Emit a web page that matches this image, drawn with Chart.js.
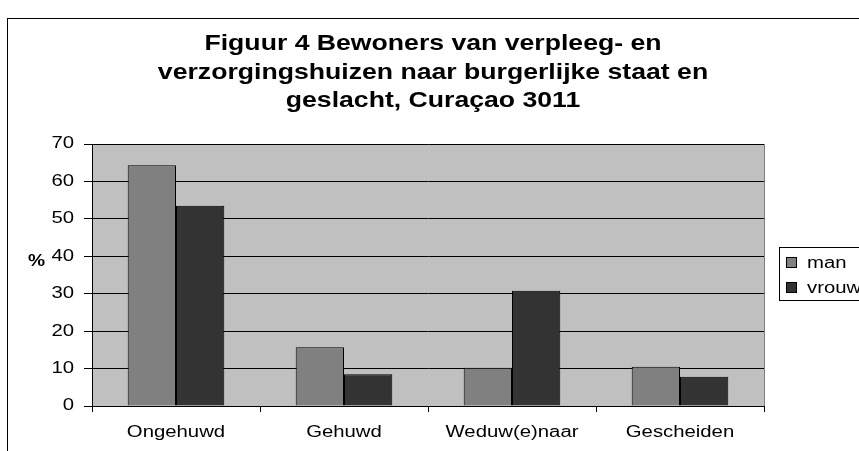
<!DOCTYPE html>
<html>
<head>
<meta charset="utf-8">
<script src="https://cdn.jsdelivr.net/npm/chart.js@4/dist/chart.umd.min.js"></script>
<style>
  html, body { margin: 0; padding: 0; background: #fff; }
  #wrap { width: 859px; height: 451px; position: relative; }
</style>
</head>
<body>
<div id="wrap"><canvas id="chart"></canvas></div>
<script>
// ==============================
// data
// ==============================
const categories = ["Ongehuwd", "Gehuwd", "Weduw(e)naar", "Gescheiden"];
const seriesNames = ["man", "vrouw"];
const manValues = [64.3, 15.7, 10.2, 10.5];
const vrouwValues = [53.5, 8.5, 30.8, 7.8];
const yTicks = [0, 10, 20, 30, 40, 50, 60, 70];
const titleLines = [
    "Figuur 4 Bewoners van verpleeg- en",
    "verzorgingshuizen naar burgerlijke staat en",
    "geslacht, Curaçao 3011"
];
const yAxisLabel = "%";

const colors = ["#808080", "#333333"];
const FONT = "'Liberation Sans', Arial, sans-serif";

// the original text is a bit wider than plain Arial
function wideText(ctx, text, x, y, sx, align) {
    ctx.save();
    ctx.translate(x, y);
    ctx.scale(sx, 1);
    ctx.textAlign = align;
    ctx.fillText(text, 0, 0);
    ctx.restore();
}

// ==============================
// frame, plot background, labels, title, legend
// ==============================
const decor = {
    id: "decor",
    beforeDraw(chart) {
        const ctx = chart.ctx;
        const a = chart.chartArea;
        ctx.save();
        ctx.fillStyle = "#fff";
        ctx.fillRect(0, 0, chart.width, chart.height);
        // outer frame (cut off at right and bottom)
        ctx.strokeStyle = "#000";
        ctx.lineWidth = 1;
        ctx.strokeRect(7.5, 18.5, 1000, 1000);
        // plot area
        ctx.fillStyle = "#c0c0c0";
        ctx.fillRect(a.left, a.top, a.right - a.left, a.bottom - a.top);
        ctx.strokeStyle = "#808080";
        ctx.beginPath();
        ctx.moveTo(a.right + 0.5, a.top);
        ctx.lineTo(a.right + 0.5, a.bottom);
        ctx.stroke();
        ctx.restore();
    },
    afterDraw(chart) {
        const ctx = chart.ctx;
        const xs = chart.scales.x;
        const ys = chart.scales.y;
        ctx.save();
        ctx.fillStyle = "#000";

        // tick labels
        ctx.font = "16px " + FONT;
        ctx.textBaseline = "middle";
        ys.ticks.forEach(t => {
            wideText(ctx, String(t.value), 74, ys.getPixelForValue(t.value), 1.27, "right");
        });
        xs.ticks.forEach((t, i) => {
            wideText(ctx, xs.getLabelForValue(t.value), xs.getPixelForTick(i), 433, 1.27, "center");
        });

        // title
        ctx.font = "bold 22px " + FONT;
        ctx.textBaseline = "alphabetic";
        titleLines.forEach((t, i) => wideText(ctx, t, 433, 50 + i * 28.5, 1.21, "center"));

        // y axis label
        ctx.font = "bold 16px " + FONT;
        ctx.textBaseline = "middle";
        wideText(ctx, yAxisLabel, 36.5, 262, 1.2, "center");

        // legend
        ctx.strokeStyle = "#000";
        ctx.lineWidth = 1;
        ctx.strokeRect(779.5, 247.5, 200, 53);
        ctx.font = "16px " + FONT;
        chart.data.datasets.forEach((ds, i) => {
            const y = 263 + i * 25;
            ctx.fillStyle = ds.backgroundColor;
            ctx.fillRect(786.5, y - 5.5, 10, 10);
            ctx.strokeRect(786.5, y - 5.5, 10, 10);
            ctx.fillStyle = "#000";
            wideText(ctx, ds.label, 807, y + 1, 1.27, "left");
        });
        ctx.restore();
    }
};

// ==============================
// chart
// ==============================
new Chart(document.getElementById("chart"), {
    type: "bar",
    data: {
        labels: categories,
        datasets: [
            {
                label: seriesNames[0],
                data: manValues,
                backgroundColor: colors[0],
                borderColor: "#000",
                borderWidth: 1
            },
            {
                label: seriesNames[1],
                data: vrouwValues,
                backgroundColor: colors[1],
                borderColor: "#000",
                borderWidth: 1
            }
        ]
    },
    options: {
        responsive: true,
        maintainAspectRatio: false,
        animation: false,
        devicePixelRatio: 1,
        layout: { padding: { left: 0, top: 144, right: 95, bottom: 0 } },
        datasets: {
            bar: { barPercentage: 1, categoryPercentage: 0.575 }
        },
        plugins: {
            legend: { display: false },
            title: { display: false },
            tooltip: { enabled: false }
        },
        scales: {
            x: {
                afterFit: s => { s.height = 45; },
                grid: {
                    display: true,
                    offset: true,
                    drawOnChartArea: false,
                    drawTicks: true,
                    tickLength: 6,
                    color: "#000"
                },
                border: { display: true, color: "#000" },
                ticks: { display: false }
            },
            y: {
                min: 0,
                max: 70,
                afterFit: s => { s.width = 92; },
                afterBuildTicks: s => { s.ticks = yTicks.map(v => ({ value: v })); },
                grid: {
                    color: "#000",
                    lineWidth: 1,
                    drawTicks: true,
                    tickLength: 8
                },
                border: { display: true, color: "#000" },
                ticks: { display: false }
            }
        }
    },
    plugins: [decor]
});
</script>
</body>
</html>
